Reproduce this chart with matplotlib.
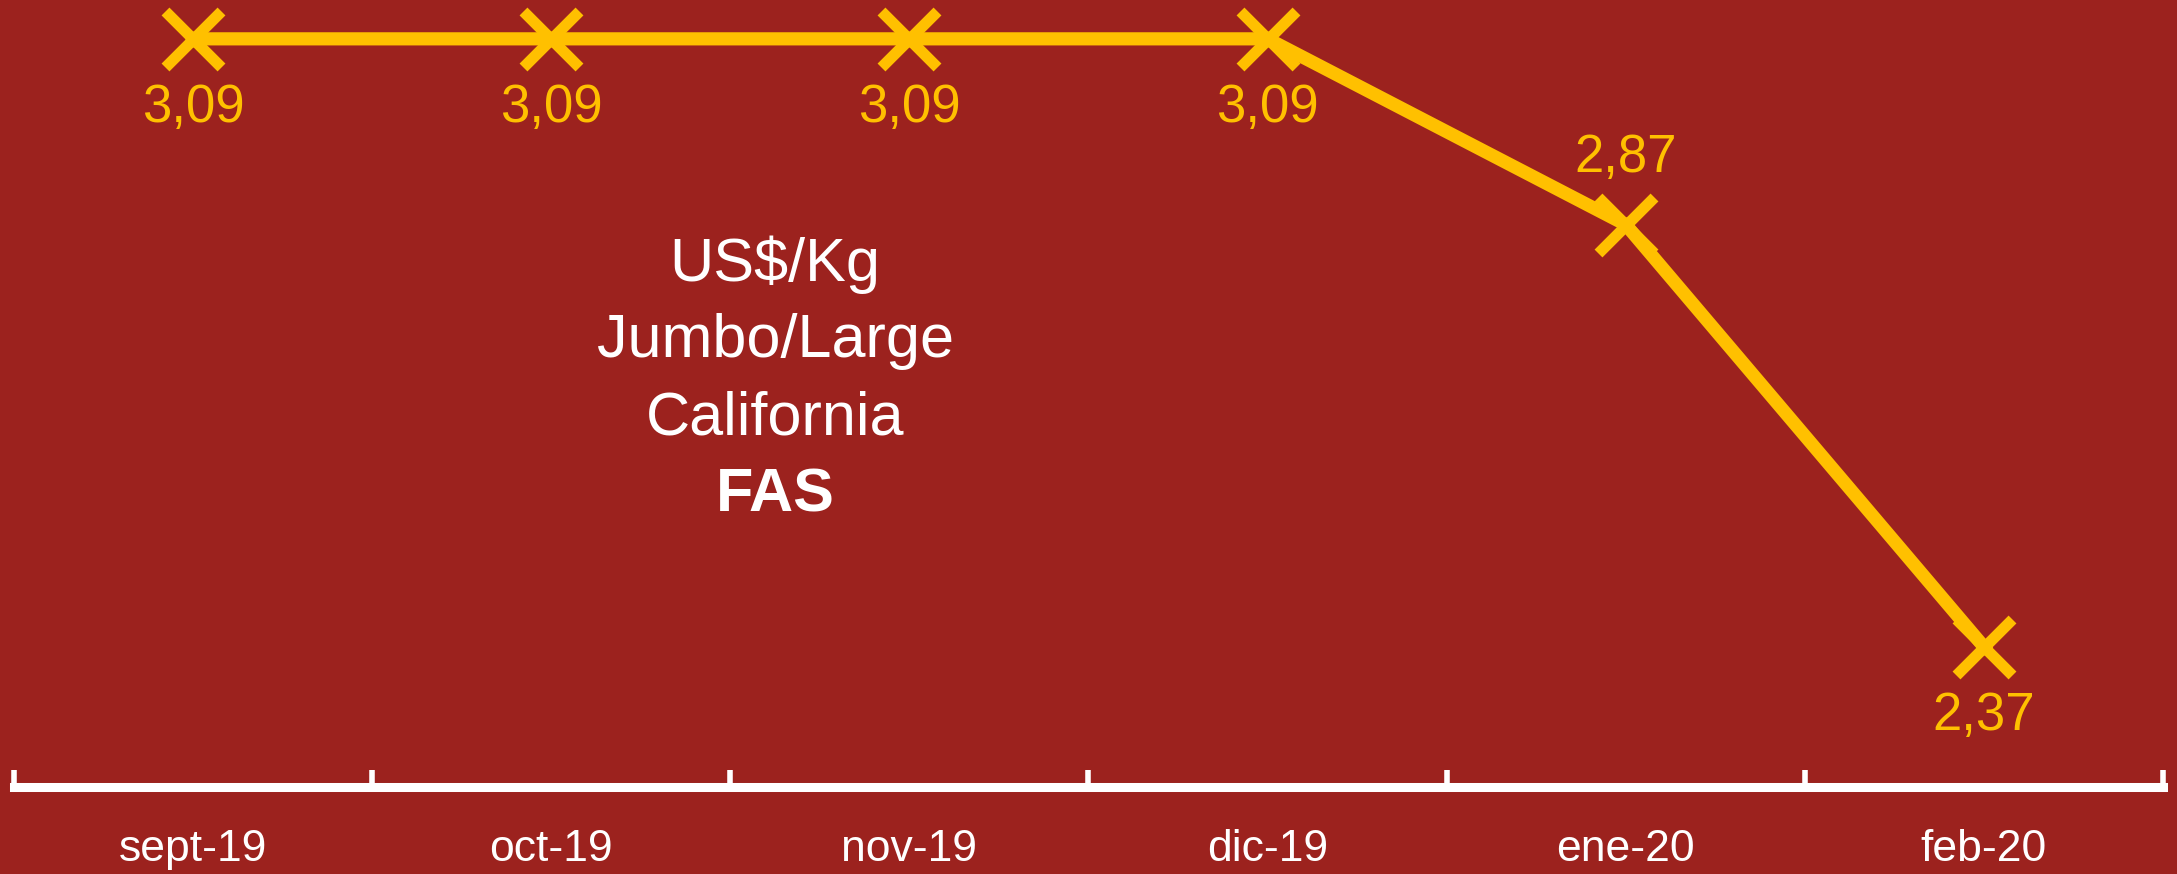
import matplotlib.pyplot as plt

# datos
meses = ["sept-19", "oct-19", "nov-19", "dic-19", "ene-20", "feb-20"]
precios = [3.09, 3.09, 3.09, 3.09, 2.87, 2.37]
etiquetas = ["3,09", "3,09", "3,09", "3,09", "2,87", "2,37"]
titulo = ["US$/Kg", "Jumbo/Large", "California"]
titulo_bold = "FAS"

FONDO = "#9C221E"
AMARILLO = "#FFC000"

plt.rcParams["font.family"] = ["Liberation Sans", "DejaVu Sans"]

fig = plt.figure(figsize=(21.77, 8.74), dpi=100, facecolor=FONDO)
ax = fig.add_axes([14 / 2177, 1 - 787 / 874, 2149 / 2177, 787 / 874])
ax.set_facecolor(FONDO)

x = list(range(len(meses)))
ax.plot(x, precios, color=AMARILLO, linewidth=9.5, marker="x",
        markersize=40, markeredgewidth=8, clip_on=False, zorder=3)

# etiquetas de valores
for i, (v, t) in enumerate(zip(precios, etiquetas)):
    dy = 48 if i == 4 else -50
    ax.annotate(t, (i, v), xytext=(0, dy), textcoords="offset points",
                ha="center", va="center", color=AMARILLO, fontsize=38)

ax.set_xlim(-0.5, len(meses) - 0.5)
ax.set_ylim(2.204, 3.136)

# eje x estilo excel
for s in ["top", "right", "left"]:
    ax.spines[s].set_visible(False)
ax.spines["bottom"].set_color("white")
ax.spines["bottom"].set_linewidth(6.5)
ax.set_yticks([])
ax.set_xticks([i - 0.5 for i in range(len(meses) + 1)])
ax.set_xticklabels([])
ax.set_xticks(x, minor=True)
ax.set_xticklabels(meses, minor=True)
ax.tick_params(axis="x", which="major", direction="in", length=12, width=4, color="white")
ax.tick_params(axis="x", which="minor", length=0, pad=30, labelsize=32, labelcolor="white")

# texto central
for k, linea in enumerate(titulo):
    fig.text(775 / 2177, 1 - (265 + 77 * k) / 874, linea, ha="center", va="center",
             color="white", fontsize=44)
fig.text(775 / 2177, 1 - (265 + 77 * 3) / 874, titulo_bold, ha="center", va="center",
         color="white", fontsize=44, fontweight="bold")

fig.savefig("out.png", dpi=100, facecolor=FONDO)
